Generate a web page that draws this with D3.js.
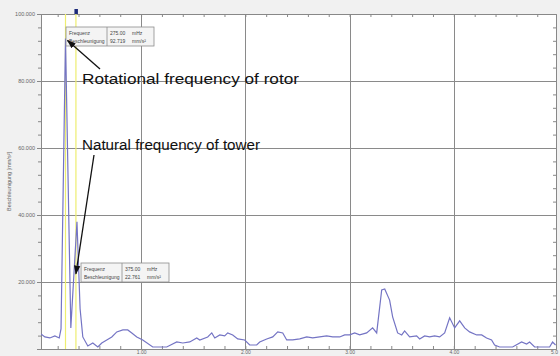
<!DOCTYPE html>
<html>
<head>
<meta charset="utf-8">
<script src="https://cdn.jsdelivr.net/npm/d3@7"></script>
<style>
  html, body { margin: 0; padding: 0; background: #f1f1f1; }
  svg { display: block; }
  text { font-family: "Liberation Sans", Arial, sans-serif; }
</style>
</head>
<body>
<div id="chart"></div>
<script>
// spectrum: frequency [Hz], acceleration [mm/s²]
var freq = [0.04, 0.077, 0.125, 0.173, 0.215, 0.232, 0.275, 0.326, 0.385, 0.415, 0.441,
  0.489, 0.537, 0.585, 0.623, 0.671, 0.719, 0.767, 0.825, 0.872, 0.911, 0.959, 1.016,
  1.112, 1.246, 1.342, 1.40, 1.467, 1.534, 1.563, 1.639, 1.678, 1.707, 1.755, 1.802,
  1.831, 1.879, 1.927, 1.994, 2.042, 2.109, 2.138, 2.205, 2.263, 2.311, 2.359, 2.397,
  2.454, 2.522, 2.589, 2.646, 2.713, 2.780, 2.838, 2.905, 2.953, 3.001, 3.049, 3.097,
  3.164, 3.221, 3.260, 3.308, 3.337, 3.384, 3.413, 3.461, 3.50, 3.528, 3.576, 3.643,
  3.672, 3.72, 3.768, 3.816, 3.864, 3.912, 3.96, 4.008, 4.056, 4.104, 4.151, 4.219,
  4.267, 4.314, 4.362, 4.391, 4.439, 4.564, 4.65, 4.698, 4.727, 4.775, 4.919, 4.947, 4.976];
var accel = [4.5, 3.6, 3.3, 3.9, 3.3, 6, 92.7, 6.3, 38, 12, 3.6,
  0.9, 1.8, 0.6, 1.8, 2.7, 3.6, 5.1, 5.7, 5.7, 4.8, 3.6, 2.7,
  0.6, 0.6, 2.1, 1.8, 2.1, 3.3, 2.7, 3.6, 4.8, 3.3, 4.2, 3.9,
  4.8, 4.2, 3.0, 2.7, 1.2, 1.2, 2.1, 3.0, 3.6, 5.1, 4.8, 2.7,
  2.7, 3.0, 3.6, 3.3, 3.6, 3.9, 3.6, 3.6, 4.2, 4.2, 4.8, 4.2,
  4.8, 6.3, 4.8, 17.6, 17.9, 14.6, 9.6, 4.8, 4.2, 5.4, 3.6, 3.9,
  3.0, 3.9, 3.6, 3.9, 3.6, 4.8, 9.3, 6.3, 8.4, 6.3, 5.1, 4.2,
  4.2, 3.3, 2.7, 1.2, 0.6, 0.6, 2.1, 1.5, 2.1, 0.6, 0.6, 2.1, 1.2];

var xMajor = [1, 2, 3, 4, 5];
var yMajor = [20, 40, 60, 80, 100];

// cursor readouts
var markers = [
  { label: "rotor", freq: 0.275, value: 92.719, fText: "275.00", aText: "92.719" },
  { label: "tower", freq: 0.375, value: 22.761, fText: "375.00", aText: "22.761" }
];
var notes = ["Rotational frequency of rotor", "Natural frequency of tower"];

var width = 560, height = 356;
var plot = { left: 41, right: 556, top: 14, bottom: 349 };

var svg = d3.select("#chart").append("svg")
  .attr("width", width).attr("height", height);

var defs = svg.append("defs");
defs.append("marker")
  .attr("id", "arrow")
  .attr("viewBox", "0 0 10 10")
  .attr("refX", 9).attr("refY", 5)
  .attr("markerWidth", 7).attr("markerHeight", 7)
  .attr("orient", "auto")
  .append("path").attr("d", "M0,1.5L10,5L0,8.5z").attr("fill", "#111");
defs.append("clipPath").attr("id", "clip")
  .append("rect")
  .attr("x", plot.left).attr("y", plot.top)
  .attr("width", plot.right - plot.left).attr("height", plot.bottom - plot.top);

var x = d3.scaleLinear().domain([0.04, 4.98]).range([plot.left, plot.right]);
var y = d3.scaleLinear().domain([0, 100]).range([plot.bottom, plot.top]);

// plot background
svg.append("rect")
  .attr("x", plot.left).attr("y", plot.top)
  .attr("width", plot.right - plot.left).attr("height", plot.bottom - plot.top)
  .attr("fill", "#fff");

// grid
var grid = svg.append("g").attr("stroke", "#8a8a8a").attr("stroke-width", 1);
grid.selectAll("line.v").data(xMajor.filter(function(d) { return x(d) < plot.right - 2; }))
  .enter().append("line")
  .attr("x1", function(d) { return Math.round(x(d)) + 0.5; })
  .attr("x2", function(d) { return Math.round(x(d)) + 0.5; })
  .attr("y1", plot.top).attr("y2", plot.bottom);
grid.selectAll("line.h").data(yMajor.filter(function(d) { return d < 100; }))
  .enter().append("line")
  .attr("y1", function(d) { return Math.round(y(d)) + 0.5; })
  .attr("y2", function(d) { return Math.round(y(d)) + 0.5; })
  .attr("x1", plot.left).attr("x2", plot.right);

// axes (ticks drawn inward like the measuring software)
var xMinor = d3.range(0.2, 5.0, 0.2);
var yMinor = d3.range(4, 100, 4);

var axB = svg.append("g").attr("transform", "translate(0," + plot.bottom + ")")
  .call(d3.axisBottom(x).tickValues(xMinor).tickSize(-3).tickFormat(""));
var axBl = svg.append("g").attr("transform", "translate(0," + plot.bottom + ")")
  .call(d3.axisBottom(x).tickValues(xMajor).tickSize(0).tickPadding(1.5)
    .tickFormat(function(d) { return d < 5 ? d3.format(".2f")(d) : "5.0"; }));
var axT = svg.append("g").attr("transform", "translate(0," + plot.top + ")")
  .call(d3.axisTop(x).tickValues(xMinor).tickSize(-3).tickFormat(""));
var axL = svg.append("g").attr("transform", "translate(" + plot.left + ",0)")
  .call(d3.axisLeft(y).tickValues(yMinor).tickSize(3).tickFormat(""));
var axLl = svg.append("g").attr("transform", "translate(" + plot.left + ",0)")
  .call(d3.axisLeft(y).tickValues(yMajor).tickSize(4).tickPadding(2)
    .tickFormat(d3.format(".3f")));
var axR = svg.append("g").attr("transform", "translate(" + plot.right + ",0)")
  .call(d3.axisRight(y).tickValues(yMinor).tickSize(-3).tickFormat(""));

[axB, axBl, axT, axL, axLl, axR].forEach(function(a) {
  a.select(".domain").attr("stroke", "#888");
  a.selectAll(".tick line").attr("stroke", "#888");
  a.selectAll(".tick text").attr("fill", "#666").attr("font-size", 5.5);
});
axBl.selectAll(".tick text").attr("font-size", 5)
  .attr("x", function(d) { return d < 5 ? 0 : -4; });

svg.append("text")
  .attr("transform", "translate(11," + ((plot.top + plot.bottom) / 2) + ") rotate(-90)")
  .attr("text-anchor", "middle")
  .attr("font-size", 5.5).attr("fill", "#666")
  .text("Beschleunigung [mm/s²]");

// cursor lines
svg.append("g").selectAll("line").data(markers).enter().append("line")
  .attr("x1", function(d) { return x(d.freq); })
  .attr("x2", function(d) { return x(d.freq); })
  .attr("y1", plot.top).attr("y2", plot.bottom)
  .attr("stroke", "#eeee70").attr("stroke-width", 1.2);

// spectrum
var line = d3.line()
  .x(function(d, i) { return x(freq[i]); })
  .y(function(d) { return y(d); });
svg.append("path")
  .datum(accel)
  .attr("clip-path", "url(#clip)")
  .attr("d", line)
  .attr("fill", "none")
  .attr("stroke", "#7474c4")
  .attr("stroke-width", 1.2);

// active cursor handle on the top axis
svg.append("rect")
  .attr("x", x(markers[1].freq) - 1.5).attr("y", plot.top - 5)
  .attr("width", 3.5).attr("height", 5)
  .attr("fill", "#1d2a7a");

// readout boxes
var boxes = [
  { m: markers[0], left: 66, top: 27 },
  { m: markers[1], left: 81, top: 263 }
];
boxes.forEach(function(b) {
  var g = svg.append("g").attr("transform", "translate(" + b.left + "," + b.top + ")");
  var w = 88, h = 19, split = 41;
  g.append("rect").attr("width", w).attr("height", h)
    .attr("fill", "#f4f4f4").attr("stroke", "#8d8d8d").attr("stroke-width", 0.8);
  g.append("line").attr("x1", split).attr("x2", split).attr("y1", 0).attr("y2", h)
    .attr("stroke", "#8d8d8d").attr("stroke-width", 0.8);
  var rows = [["Frequenz", b.m.fText, "mHz"], ["Beschleunigung", b.m.aText, "mm/s²"]];
  rows.forEach(function(r, i) {
    var ty = 7.5 + i * 8;
    g.append("text").attr("x", 3).attr("y", ty).attr("font-size", 5).attr("fill", "#444").text(r[0]);
    g.append("text").attr("x", split + 3).attr("y", ty).attr("font-size", 5).attr("fill", "#444").text(r[1]);
    g.append("text").attr("x", split + 25).attr("y", ty).attr("font-size", 5).attr("fill", "#444").text(r[2]);
  });
});

// annotations (the source screenshot is stretched sideways)
svg.append("text").attr("x", 82).attr("y", 84)
  .attr("font-size", 14).attr("fill", "#111")
  .attr("textLength", 217).attr("lengthAdjust", "spacingAndGlyphs")
  .text(notes[0]);
svg.append("text").attr("x", 82).attr("y", 150)
  .attr("font-size", 14).attr("fill", "#111")
  .attr("textLength", 178).attr("lengthAdjust", "spacingAndGlyphs")
  .text(notes[1]);

svg.append("line")
  .attr("x1", 100).attr("y1", 69)
  .attr("x2", x(markers[0].freq) + 2).attr("y2", y(markers[0].value) + 2)
  .attr("stroke", "#111").attr("stroke-width", 1.3)
  .attr("marker-end", "url(#arrow)");
svg.append("line")
  .attr("x1", 94).attr("y1", 155)
  .attr("x2", x(markers[1].freq)).attr("y2", y(markers[1].value) + 1)
  .attr("stroke", "#111").attr("stroke-width", 1.3)
  .attr("marker-end", "url(#arrow)");
</script>
</body>
</html>
